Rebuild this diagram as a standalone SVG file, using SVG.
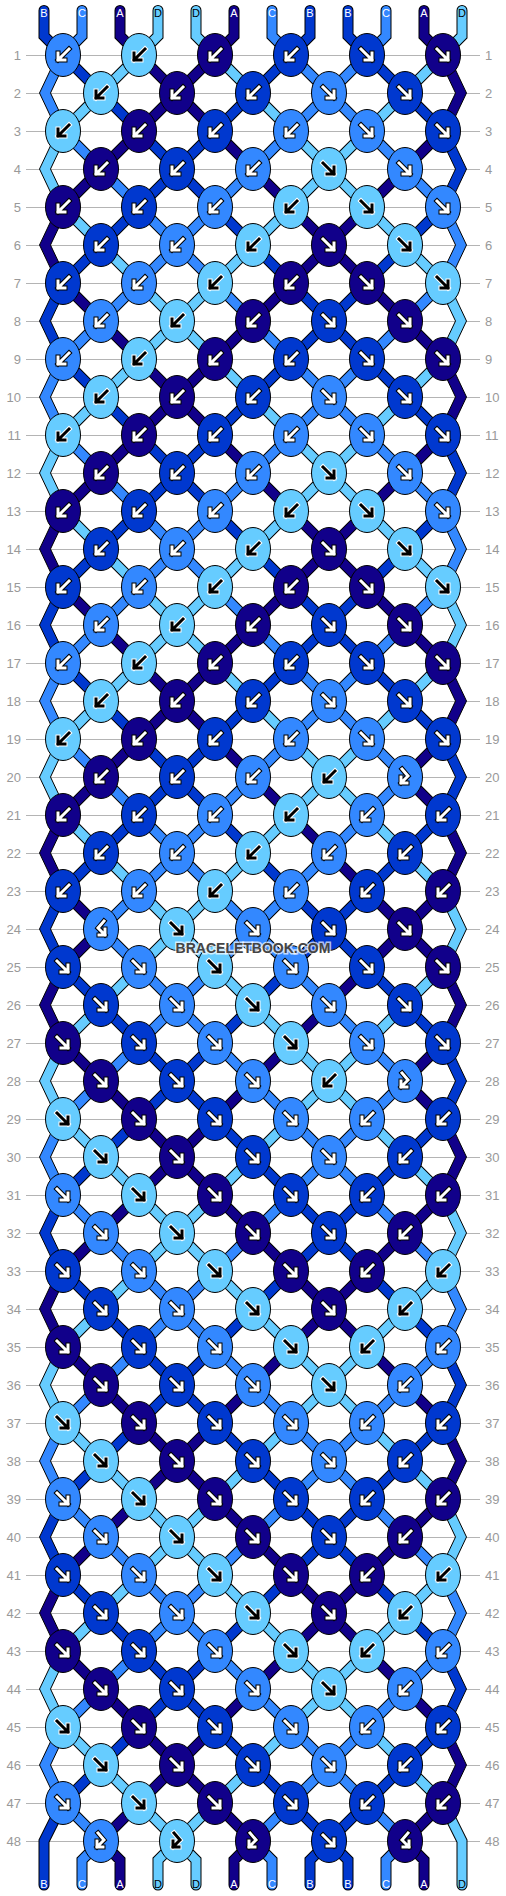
<svg xmlns="http://www.w3.org/2000/svg" xmlns:xlink="http://www.w3.org/1999/xlink" width="506" height="1896" viewBox="0 0 506 1896">
<defs>
<style>
.A{fill:#11008a}.B{fill:#0038cf}.C{fill:#3388ff}.D{fill:#66ccff}
.kn{stroke:#000;stroke-width:1}
.bd{stroke:#000;stroke-width:1}
.ar{fill:none;stroke-linecap:square;stroke-linejoin:miter}
.ow{stroke:#000;stroke-width:5}.iw{stroke:#fff;stroke-width:3}
.ok{stroke:#fff;stroke-width:5}.ik{stroke:#000;stroke-width:3}
.to,.sA,.sB,.sC,.sD{fill:none;stroke-linecap:round;stroke-linejoin:miter}
.to{stroke:#000;stroke-width:11}
.sA{stroke:#11008a;stroke-width:9}.sB{stroke:#0038cf;stroke-width:9}.sC{stroke:#3388ff;stroke-width:9}.sD{stroke:#66ccff;stroke-width:9}
.rl{fill:none;stroke:#b4b4b4;stroke-width:1}
.rn{font-family:"Liberation Sans",Arial,sans-serif;font-size:13px;fill:#999}
.tl{font-family:"Liberation Sans",Arial,sans-serif;font-size:11px;text-anchor:middle;fill:#fff}
.tl .dk{fill:#000}
.wm{font-family:"Liberation Sans",Arial,sans-serif;font-size:14px;font-weight:bold;fill:#444;stroke:#fff;stroke-opacity:0.7;stroke-width:3;paint-order:stroke;text-anchor:middle}
</style>
<ellipse id="eA" class="A kn" rx="17.5" ry="21.5"/>
<ellipse id="eB" class="B kn" rx="17.5" ry="21.5"/>
<ellipse id="eC" class="C kn" rx="17.5" ry="21.5"/>
<ellipse id="eD" class="D kn" rx="17.5" ry="21.5"/>
<path id="ab" class="ar" d="M6,-6L-5,5M-5,-2V5H2"/>
<path id="af" class="ar" d="M-6,-6L5,5M5,-2V5H-2"/>
<path id="afb" class="ar" d="M-3,-8L3,-1L-4,6M-4,0V6H2"/>
<path id="abf" class="ar" d="M3,-8L-3,-1L4,6M4,0V6H-2"/>
<g id="bW"><use href="#ab" class="ow"/><use href="#ab" class="iw"/></g>
<g id="bK"><use href="#ab" class="ok"/><use href="#ab" class="ik"/></g>
<g id="fW"><use href="#af" class="ow"/><use href="#af" class="iw"/></g>
<g id="fK"><use href="#af" class="ok"/><use href="#af" class="ik"/></g>
<g id="fbW"><use href="#afb" class="ow"/><use href="#afb" class="iw"/></g>
<g id="fbK"><use href="#afb" class="ok"/><use href="#afb" class="ik"/></g>
<g id="bfW"><use href="#abf" class="ow"/><use href="#abf" class="iw"/></g>
<polygon id="bl" points="57.5,-38 39.5,0 57.5,38 68.5,38 50.5,0 68.5,-38"/>
<polygon id="br" points="448.5,-38 466.5,0 448.5,38 437.5,38 455.5,0 437.5,-38"/>
<path id="tA" d="M120,10.5V36L139,55L443,359M443,435L63,815M63,891L101,929L63,967M63,1043L443,1423M443,1499L139,1803L101,1841L120,1860V1885M234,10.5V36L215,55L63,207M63,283L443,663M443,739L405,777L443,815M443,891L63,1271M63,1347L443,1727M443,1803L405,1841L424,1860V1885M424,10.5V36L443,55M443,131L63,511M63,587L443,967M443,1043L405,1081L443,1119M443,1195L63,1575M63,1651L253,1841L234,1860V1885"/>
<path id="tB" d="M44,10.5V36L63,55L443,435M443,511L63,891M63,967L443,1347M443,1423L63,1803L44,1841V1885M310,10.5V36L291,55L63,283M63,359L443,739M443,815L63,1195M63,1271L443,1651M443,1727L329,1841L310,1860V1885M348,10.5V36L367,55L443,131M443,207L63,587M63,663L443,1043M443,1119L63,1499M63,1575L329,1841L348,1860V1885"/>
<path id="tC" d="M82,10.5V36L63,55M63,131L443,511M443,587L101,929L443,1271M443,1347L63,1727M63,1803L101,1841L82,1860V1885M272,10.5V36L291,55L443,207M443,283L63,663M63,739L405,1081L63,1423M63,1499L405,1841L386,1860V1885M386,10.5V36L367,55L63,359M63,435L405,777L63,1119M63,1195L443,1575M443,1651L253,1841L272,1860V1885"/>
<path id="tD" d="M158,10.5V36L139,55L63,131M63,207L443,587M443,663L63,1043M63,1119L443,1499M443,1575L177,1841L196,1860V1885M196,10.5V36L215,55L443,283M443,359L63,739M63,815L443,1195M443,1271L63,1651M63,1727L177,1841L158,1860V1885M462,10.5V36L443,55L63,435M63,511L443,891M443,967L63,1347M63,1423L443,1803L462,1841V1885"/>
</defs>
<rect width="506" height="1896" fill="#fff"/>
<path class="rl" d="M26,55.5H480M26,93.5H480M26,131.5H480M26,169.5H480M26,207.5H480M26,245.5H480M26,283.5H480M26,321.5H480M26,359.5H480M26,397.5H480M26,435.5H480M26,473.5H480M26,511.5H480M26,549.5H480M26,587.5H480M26,625.5H480M26,663.5H480M26,701.5H480M26,739.5H480M26,777.5H480M26,815.5H480M26,853.5H480M26,891.5H480M26,929.5H480M26,967.5H480M26,1005.5H480M26,1043.5H480M26,1081.5H480M26,1119.5H480M26,1157.5H480M26,1195.5H480M26,1233.5H480M26,1271.5H480M26,1309.5H480M26,1347.5H480M26,1385.5H480M26,1423.5H480M26,1461.5H480M26,1499.5H480M26,1537.5H480M26,1575.5H480M26,1613.5H480M26,1651.5H480M26,1689.5H480M26,1727.5H480M26,1765.5H480M26,1803.5H480M26,1841.5H480"/>
<g class="rn" text-anchor="end">
<text x="21" y="60">1</text><text x="21" y="98">2</text><text x="21" y="136">3</text><text x="21" y="174">4</text><text x="21" y="212">5</text><text x="21" y="250">6</text><text x="21" y="288">7</text><text x="21" y="326">8</text><text x="21" y="364">9</text><text x="21" y="402">10</text><text x="21" y="440">11</text><text x="21" y="478">12</text><text x="21" y="516">13</text><text x="21" y="554">14</text><text x="21" y="592">15</text><text x="21" y="630">16</text><text x="21" y="668">17</text><text x="21" y="706">18</text><text x="21" y="744">19</text><text x="21" y="782">20</text><text x="21" y="820">21</text><text x="21" y="858">22</text><text x="21" y="896">23</text><text x="21" y="934">24</text><text x="21" y="972">25</text><text x="21" y="1010">26</text><text x="21" y="1048">27</text><text x="21" y="1086">28</text><text x="21" y="1124">29</text><text x="21" y="1162">30</text><text x="21" y="1200">31</text><text x="21" y="1238">32</text><text x="21" y="1276">33</text><text x="21" y="1314">34</text><text x="21" y="1352">35</text><text x="21" y="1390">36</text><text x="21" y="1428">37</text><text x="21" y="1466">38</text><text x="21" y="1504">39</text><text x="21" y="1542">40</text><text x="21" y="1580">41</text><text x="21" y="1618">42</text><text x="21" y="1656">43</text><text x="21" y="1694">44</text><text x="21" y="1732">45</text><text x="21" y="1770">46</text><text x="21" y="1808">47</text><text x="21" y="1846">48</text>
</g>
<g class="rn">
<text x="485" y="60">1</text><text x="485" y="98">2</text><text x="485" y="136">3</text><text x="485" y="174">4</text><text x="485" y="212">5</text><text x="485" y="250">6</text><text x="485" y="288">7</text><text x="485" y="326">8</text><text x="485" y="364">9</text><text x="485" y="402">10</text><text x="485" y="440">11</text><text x="485" y="478">12</text><text x="485" y="516">13</text><text x="485" y="554">14</text><text x="485" y="592">15</text><text x="485" y="630">16</text><text x="485" y="668">17</text><text x="485" y="706">18</text><text x="485" y="744">19</text><text x="485" y="782">20</text><text x="485" y="820">21</text><text x="485" y="858">22</text><text x="485" y="896">23</text><text x="485" y="934">24</text><text x="485" y="972">25</text><text x="485" y="1010">26</text><text x="485" y="1048">27</text><text x="485" y="1086">28</text><text x="485" y="1124">29</text><text x="485" y="1162">30</text><text x="485" y="1200">31</text><text x="485" y="1238">32</text><text x="485" y="1276">33</text><text x="485" y="1314">34</text><text x="485" y="1352">35</text><text x="485" y="1390">36</text><text x="485" y="1428">37</text><text x="485" y="1466">38</text><text x="485" y="1504">39</text><text x="485" y="1542">40</text><text x="485" y="1580">41</text><text x="485" y="1618">42</text><text x="485" y="1656">43</text><text x="485" y="1694">44</text><text x="485" y="1732">45</text><text x="485" y="1770">46</text><text x="485" y="1808">47</text><text x="485" y="1846">48</text>
</g>
<g id="threads">
<use href="#tA" class="to"/><use href="#tB" class="to"/><use href="#tC" class="to"/><use href="#tD" class="to"/>
<use href="#tA" class="sA"/><use href="#tB" class="sB"/><use href="#tC" class="sC"/><use href="#tD" class="sD"/>
<use href="#bl" y="93" class="bd C"/><use href="#bl" y="169" class="bd D"/><use href="#bl" y="245" class="bd A"/><use href="#bl" y="321" class="bd B"/><use href="#bl" y="397" class="bd C"/><use href="#bl" y="473" class="bd D"/><use href="#bl" y="549" class="bd A"/><use href="#bl" y="625" class="bd B"/><use href="#bl" y="701" class="bd C"/><use href="#bl" y="777" class="bd D"/><use href="#bl" y="853" class="bd A"/><use href="#bl" y="929" class="bd B"/><use href="#bl" y="1005" class="bd A"/><use href="#bl" y="1081" class="bd D"/><use href="#bl" y="1157" class="bd C"/><use href="#bl" y="1233" class="bd B"/><use href="#bl" y="1309" class="bd A"/><use href="#bl" y="1385" class="bd D"/><use href="#bl" y="1461" class="bd C"/><use href="#bl" y="1537" class="bd B"/><use href="#bl" y="1613" class="bd A"/><use href="#bl" y="1689" class="bd D"/><use href="#bl" y="1765" class="bd C"/>
<use href="#br" y="93" class="bd A"/><use href="#br" y="169" class="bd B"/><use href="#br" y="245" class="bd C"/><use href="#br" y="321" class="bd D"/><use href="#br" y="397" class="bd A"/><use href="#br" y="473" class="bd B"/><use href="#br" y="549" class="bd C"/><use href="#br" y="625" class="bd D"/><use href="#br" y="701" class="bd A"/><use href="#br" y="777" class="bd B"/><use href="#br" y="853" class="bd A"/><use href="#br" y="929" class="bd D"/><use href="#br" y="1005" class="bd A"/><use href="#br" y="1081" class="bd B"/><use href="#br" y="1157" class="bd A"/><use href="#br" y="1233" class="bd D"/><use href="#br" y="1309" class="bd C"/><use href="#br" y="1385" class="bd B"/><use href="#br" y="1461" class="bd A"/><use href="#br" y="1537" class="bd D"/><use href="#br" y="1613" class="bd C"/><use href="#br" y="1689" class="bd B"/><use href="#br" y="1765" class="bd A"/>
</g>
<g class="tl">
<text x="44" y="17">B</text><text x="82" y="17">C</text><text x="120" y="17">A</text><text x="158" y="17" class="dk">D</text><text x="196" y="17" class="dk">D</text><text x="234" y="17">A</text><text x="272" y="17">C</text><text x="310" y="17">B</text><text x="348" y="17">B</text><text x="386" y="17">C</text><text x="424" y="17">A</text><text x="462" y="17" class="dk">D</text>
<text x="44" y="1888">B</text><text x="82" y="1888">C</text><text x="120" y="1888">A</text><text x="158" y="1888" class="dk">D</text><text x="196" y="1888" class="dk">D</text><text x="234" y="1888">A</text><text x="272" y="1888">C</text><text x="310" y="1888">B</text><text x="348" y="1888">B</text><text x="386" y="1888">C</text><text x="424" y="1888">A</text><text x="462" y="1888" class="dk">D</text>
</g>
<g id="knots">
<g id="k1-1" transform="translate(63 55)"><use href="#eC"/><use href="#bW"/></g><g id="k1-2" transform="translate(139 55)"><use href="#eD"/><use href="#bK"/></g><g id="k1-3" transform="translate(215 55)"><use href="#eA"/><use href="#bW"/></g><g id="k1-4" transform="translate(291 55)"><use href="#eB"/><use href="#bW"/></g><g id="k1-5" transform="translate(367 55)"><use href="#eB"/><use href="#fW"/></g><g id="k1-6" transform="translate(443 55)"><use href="#eA"/><use href="#fW"/></g>
<g id="k2-1" transform="translate(101 93)"><use href="#eD"/><use href="#bK"/></g><g id="k2-2" transform="translate(177 93)"><use href="#eA"/><use href="#bW"/></g><g id="k2-3" transform="translate(253 93)"><use href="#eB"/><use href="#bW"/></g><g id="k2-4" transform="translate(329 93)"><use href="#eC"/><use href="#fW"/></g><g id="k2-5" transform="translate(405 93)"><use href="#eB"/><use href="#fW"/></g>
<g id="k3-1" transform="translate(63 131)"><use href="#eD"/><use href="#bK"/></g><g id="k3-2" transform="translate(139 131)"><use href="#eA"/><use href="#bW"/></g><g id="k3-3" transform="translate(215 131)"><use href="#eB"/><use href="#bW"/></g><g id="k3-4" transform="translate(291 131)"><use href="#eC"/><use href="#bW"/></g><g id="k3-5" transform="translate(367 131)"><use href="#eC"/><use href="#fW"/></g><g id="k3-6" transform="translate(443 131)"><use href="#eB"/><use href="#fW"/></g>
<g id="k4-1" transform="translate(101 169)"><use href="#eA"/><use href="#bW"/></g><g id="k4-2" transform="translate(177 169)"><use href="#eB"/><use href="#bW"/></g><g id="k4-3" transform="translate(253 169)"><use href="#eC"/><use href="#bW"/></g><g id="k4-4" transform="translate(329 169)"><use href="#eD"/><use href="#fK"/></g><g id="k4-5" transform="translate(405 169)"><use href="#eC"/><use href="#fW"/></g>
<g id="k5-1" transform="translate(63 207)"><use href="#eA"/><use href="#bW"/></g><g id="k5-2" transform="translate(139 207)"><use href="#eB"/><use href="#bW"/></g><g id="k5-3" transform="translate(215 207)"><use href="#eC"/><use href="#bW"/></g><g id="k5-4" transform="translate(291 207)"><use href="#eD"/><use href="#bK"/></g><g id="k5-5" transform="translate(367 207)"><use href="#eD"/><use href="#fK"/></g><g id="k5-6" transform="translate(443 207)"><use href="#eC"/><use href="#fW"/></g>
<g id="k6-1" transform="translate(101 245)"><use href="#eB"/><use href="#bW"/></g><g id="k6-2" transform="translate(177 245)"><use href="#eC"/><use href="#bW"/></g><g id="k6-3" transform="translate(253 245)"><use href="#eD"/><use href="#bK"/></g><g id="k6-4" transform="translate(329 245)"><use href="#eA"/><use href="#fW"/></g><g id="k6-5" transform="translate(405 245)"><use href="#eD"/><use href="#fK"/></g>
<g id="k7-1" transform="translate(63 283)"><use href="#eB"/><use href="#bW"/></g><g id="k7-2" transform="translate(139 283)"><use href="#eC"/><use href="#bW"/></g><g id="k7-3" transform="translate(215 283)"><use href="#eD"/><use href="#bK"/></g><g id="k7-4" transform="translate(291 283)"><use href="#eA"/><use href="#bW"/></g><g id="k7-5" transform="translate(367 283)"><use href="#eA"/><use href="#fW"/></g><g id="k7-6" transform="translate(443 283)"><use href="#eD"/><use href="#fK"/></g>
<g id="k8-1" transform="translate(101 321)"><use href="#eC"/><use href="#bW"/></g><g id="k8-2" transform="translate(177 321)"><use href="#eD"/><use href="#bK"/></g><g id="k8-3" transform="translate(253 321)"><use href="#eA"/><use href="#bW"/></g><g id="k8-4" transform="translate(329 321)"><use href="#eB"/><use href="#fW"/></g><g id="k8-5" transform="translate(405 321)"><use href="#eA"/><use href="#fW"/></g>
<g id="k9-1" transform="translate(63 359)"><use href="#eC"/><use href="#bW"/></g><g id="k9-2" transform="translate(139 359)"><use href="#eD"/><use href="#bK"/></g><g id="k9-3" transform="translate(215 359)"><use href="#eA"/><use href="#bW"/></g><g id="k9-4" transform="translate(291 359)"><use href="#eB"/><use href="#bW"/></g><g id="k9-5" transform="translate(367 359)"><use href="#eB"/><use href="#fW"/></g><g id="k9-6" transform="translate(443 359)"><use href="#eA"/><use href="#fW"/></g>
<g id="k10-1" transform="translate(101 397)"><use href="#eD"/><use href="#bK"/></g><g id="k10-2" transform="translate(177 397)"><use href="#eA"/><use href="#bW"/></g><g id="k10-3" transform="translate(253 397)"><use href="#eB"/><use href="#bW"/></g><g id="k10-4" transform="translate(329 397)"><use href="#eC"/><use href="#fW"/></g><g id="k10-5" transform="translate(405 397)"><use href="#eB"/><use href="#fW"/></g>
<g id="k11-1" transform="translate(63 435)"><use href="#eD"/><use href="#bK"/></g><g id="k11-2" transform="translate(139 435)"><use href="#eA"/><use href="#bW"/></g><g id="k11-3" transform="translate(215 435)"><use href="#eB"/><use href="#bW"/></g><g id="k11-4" transform="translate(291 435)"><use href="#eC"/><use href="#bW"/></g><g id="k11-5" transform="translate(367 435)"><use href="#eC"/><use href="#fW"/></g><g id="k11-6" transform="translate(443 435)"><use href="#eB"/><use href="#fW"/></g>
<g id="k12-1" transform="translate(101 473)"><use href="#eA"/><use href="#bW"/></g><g id="k12-2" transform="translate(177 473)"><use href="#eB"/><use href="#bW"/></g><g id="k12-3" transform="translate(253 473)"><use href="#eC"/><use href="#bW"/></g><g id="k12-4" transform="translate(329 473)"><use href="#eD"/><use href="#fK"/></g><g id="k12-5" transform="translate(405 473)"><use href="#eC"/><use href="#fW"/></g>
<g id="k13-1" transform="translate(63 511)"><use href="#eA"/><use href="#bW"/></g><g id="k13-2" transform="translate(139 511)"><use href="#eB"/><use href="#bW"/></g><g id="k13-3" transform="translate(215 511)"><use href="#eC"/><use href="#bW"/></g><g id="k13-4" transform="translate(291 511)"><use href="#eD"/><use href="#bK"/></g><g id="k13-5" transform="translate(367 511)"><use href="#eD"/><use href="#fK"/></g><g id="k13-6" transform="translate(443 511)"><use href="#eC"/><use href="#fW"/></g>
<g id="k14-1" transform="translate(101 549)"><use href="#eB"/><use href="#bW"/></g><g id="k14-2" transform="translate(177 549)"><use href="#eC"/><use href="#bW"/></g><g id="k14-3" transform="translate(253 549)"><use href="#eD"/><use href="#bK"/></g><g id="k14-4" transform="translate(329 549)"><use href="#eA"/><use href="#fW"/></g><g id="k14-5" transform="translate(405 549)"><use href="#eD"/><use href="#fK"/></g>
<g id="k15-1" transform="translate(63 587)"><use href="#eB"/><use href="#bW"/></g><g id="k15-2" transform="translate(139 587)"><use href="#eC"/><use href="#bW"/></g><g id="k15-3" transform="translate(215 587)"><use href="#eD"/><use href="#bK"/></g><g id="k15-4" transform="translate(291 587)"><use href="#eA"/><use href="#bW"/></g><g id="k15-5" transform="translate(367 587)"><use href="#eA"/><use href="#fW"/></g><g id="k15-6" transform="translate(443 587)"><use href="#eD"/><use href="#fK"/></g>
<g id="k16-1" transform="translate(101 625)"><use href="#eC"/><use href="#bW"/></g><g id="k16-2" transform="translate(177 625)"><use href="#eD"/><use href="#bK"/></g><g id="k16-3" transform="translate(253 625)"><use href="#eA"/><use href="#bW"/></g><g id="k16-4" transform="translate(329 625)"><use href="#eB"/><use href="#fW"/></g><g id="k16-5" transform="translate(405 625)"><use href="#eA"/><use href="#fW"/></g>
<g id="k17-1" transform="translate(63 663)"><use href="#eC"/><use href="#bW"/></g><g id="k17-2" transform="translate(139 663)"><use href="#eD"/><use href="#bK"/></g><g id="k17-3" transform="translate(215 663)"><use href="#eA"/><use href="#bW"/></g><g id="k17-4" transform="translate(291 663)"><use href="#eB"/><use href="#bW"/></g><g id="k17-5" transform="translate(367 663)"><use href="#eB"/><use href="#fW"/></g><g id="k17-6" transform="translate(443 663)"><use href="#eA"/><use href="#fW"/></g>
<g id="k18-1" transform="translate(101 701)"><use href="#eD"/><use href="#bK"/></g><g id="k18-2" transform="translate(177 701)"><use href="#eA"/><use href="#bW"/></g><g id="k18-3" transform="translate(253 701)"><use href="#eB"/><use href="#bW"/></g><g id="k18-4" transform="translate(329 701)"><use href="#eC"/><use href="#fW"/></g><g id="k18-5" transform="translate(405 701)"><use href="#eB"/><use href="#fW"/></g>
<g id="k19-1" transform="translate(63 739)"><use href="#eD"/><use href="#bK"/></g><g id="k19-2" transform="translate(139 739)"><use href="#eA"/><use href="#bW"/></g><g id="k19-3" transform="translate(215 739)"><use href="#eB"/><use href="#bW"/></g><g id="k19-4" transform="translate(291 739)"><use href="#eC"/><use href="#bW"/></g><g id="k19-5" transform="translate(367 739)"><use href="#eC"/><use href="#fW"/></g><g id="k19-6" transform="translate(443 739)"><use href="#eB"/><use href="#fW"/></g>
<g id="k20-1" transform="translate(101 777)"><use href="#eA"/><use href="#bW"/></g><g id="k20-2" transform="translate(177 777)"><use href="#eB"/><use href="#bW"/></g><g id="k20-3" transform="translate(253 777)"><use href="#eC"/><use href="#bW"/></g><g id="k20-4" transform="translate(329 777)"><use href="#eD"/><use href="#bK"/></g><g id="k20-5" transform="translate(405 777)"><use href="#eC"/><use href="#fbW"/></g>
<g id="k21-1" transform="translate(63 815)"><use href="#eA"/><use href="#bW"/></g><g id="k21-2" transform="translate(139 815)"><use href="#eB"/><use href="#bW"/></g><g id="k21-3" transform="translate(215 815)"><use href="#eC"/><use href="#bW"/></g><g id="k21-4" transform="translate(291 815)"><use href="#eD"/><use href="#bK"/></g><g id="k21-5" transform="translate(367 815)"><use href="#eC"/><use href="#bW"/></g><g id="k21-6" transform="translate(443 815)"><use href="#eB"/><use href="#bW"/></g>
<g id="k22-1" transform="translate(101 853)"><use href="#eB"/><use href="#bW"/></g><g id="k22-2" transform="translate(177 853)"><use href="#eC"/><use href="#bW"/></g><g id="k22-3" transform="translate(253 853)"><use href="#eD"/><use href="#bK"/></g><g id="k22-4" transform="translate(329 853)"><use href="#eC"/><use href="#bW"/></g><g id="k22-5" transform="translate(405 853)"><use href="#eB"/><use href="#bW"/></g>
<g id="k23-1" transform="translate(63 891)"><use href="#eB"/><use href="#bW"/></g><g id="k23-2" transform="translate(139 891)"><use href="#eC"/><use href="#bW"/></g><g id="k23-3" transform="translate(215 891)"><use href="#eD"/><use href="#bK"/></g><g id="k23-4" transform="translate(291 891)"><use href="#eC"/><use href="#bW"/></g><g id="k23-5" transform="translate(367 891)"><use href="#eB"/><use href="#bW"/></g><g id="k23-6" transform="translate(443 891)"><use href="#eA"/><use href="#bW"/></g>
<g id="k24-1" transform="translate(101 929)"><use href="#eC"/><use href="#bfW"/></g><g id="k24-2" transform="translate(177 929)"><use href="#eD"/><use href="#fK"/></g><g id="k24-3" transform="translate(253 929)"><use href="#eC"/><use href="#fW"/></g><g id="k24-4" transform="translate(329 929)"><use href="#eB"/><use href="#fW"/></g><g id="k24-5" transform="translate(405 929)"><use href="#eA"/><use href="#fW"/></g>
<g id="k25-1" transform="translate(63 967)"><use href="#eB"/><use href="#fW"/></g><g id="k25-2" transform="translate(139 967)"><use href="#eC"/><use href="#fW"/></g><g id="k25-3" transform="translate(215 967)"><use href="#eD"/><use href="#fK"/></g><g id="k25-4" transform="translate(291 967)"><use href="#eC"/><use href="#fW"/></g><g id="k25-5" transform="translate(367 967)"><use href="#eB"/><use href="#fW"/></g><g id="k25-6" transform="translate(443 967)"><use href="#eA"/><use href="#fW"/></g>
<g id="k26-1" transform="translate(101 1005)"><use href="#eB"/><use href="#fW"/></g><g id="k26-2" transform="translate(177 1005)"><use href="#eC"/><use href="#fW"/></g><g id="k26-3" transform="translate(253 1005)"><use href="#eD"/><use href="#fK"/></g><g id="k26-4" transform="translate(329 1005)"><use href="#eC"/><use href="#fW"/></g><g id="k26-5" transform="translate(405 1005)"><use href="#eB"/><use href="#fW"/></g>
<g id="k27-1" transform="translate(63 1043)"><use href="#eA"/><use href="#fW"/></g><g id="k27-2" transform="translate(139 1043)"><use href="#eB"/><use href="#fW"/></g><g id="k27-3" transform="translate(215 1043)"><use href="#eC"/><use href="#fW"/></g><g id="k27-4" transform="translate(291 1043)"><use href="#eD"/><use href="#fK"/></g><g id="k27-5" transform="translate(367 1043)"><use href="#eC"/><use href="#fW"/></g><g id="k27-6" transform="translate(443 1043)"><use href="#eB"/><use href="#fW"/></g>
<g id="k28-1" transform="translate(101 1081)"><use href="#eA"/><use href="#fW"/></g><g id="k28-2" transform="translate(177 1081)"><use href="#eB"/><use href="#fW"/></g><g id="k28-3" transform="translate(253 1081)"><use href="#eC"/><use href="#fW"/></g><g id="k28-4" transform="translate(329 1081)"><use href="#eD"/><use href="#bK"/></g><g id="k28-5" transform="translate(405 1081)"><use href="#eC"/><use href="#fbW"/></g>
<g id="k29-1" transform="translate(63 1119)"><use href="#eD"/><use href="#fK"/></g><g id="k29-2" transform="translate(139 1119)"><use href="#eA"/><use href="#fW"/></g><g id="k29-3" transform="translate(215 1119)"><use href="#eB"/><use href="#fW"/></g><g id="k29-4" transform="translate(291 1119)"><use href="#eC"/><use href="#fW"/></g><g id="k29-5" transform="translate(367 1119)"><use href="#eC"/><use href="#bW"/></g><g id="k29-6" transform="translate(443 1119)"><use href="#eB"/><use href="#bW"/></g>
<g id="k30-1" transform="translate(101 1157)"><use href="#eD"/><use href="#fK"/></g><g id="k30-2" transform="translate(177 1157)"><use href="#eA"/><use href="#fW"/></g><g id="k30-3" transform="translate(253 1157)"><use href="#eB"/><use href="#fW"/></g><g id="k30-4" transform="translate(329 1157)"><use href="#eC"/><use href="#fW"/></g><g id="k30-5" transform="translate(405 1157)"><use href="#eB"/><use href="#bW"/></g>
<g id="k31-1" transform="translate(63 1195)"><use href="#eC"/><use href="#fW"/></g><g id="k31-2" transform="translate(139 1195)"><use href="#eD"/><use href="#fK"/></g><g id="k31-3" transform="translate(215 1195)"><use href="#eA"/><use href="#fW"/></g><g id="k31-4" transform="translate(291 1195)"><use href="#eB"/><use href="#fW"/></g><g id="k31-5" transform="translate(367 1195)"><use href="#eB"/><use href="#bW"/></g><g id="k31-6" transform="translate(443 1195)"><use href="#eA"/><use href="#bW"/></g>
<g id="k32-1" transform="translate(101 1233)"><use href="#eC"/><use href="#fW"/></g><g id="k32-2" transform="translate(177 1233)"><use href="#eD"/><use href="#fK"/></g><g id="k32-3" transform="translate(253 1233)"><use href="#eA"/><use href="#fW"/></g><g id="k32-4" transform="translate(329 1233)"><use href="#eB"/><use href="#fW"/></g><g id="k32-5" transform="translate(405 1233)"><use href="#eA"/><use href="#bW"/></g>
<g id="k33-1" transform="translate(63 1271)"><use href="#eB"/><use href="#fW"/></g><g id="k33-2" transform="translate(139 1271)"><use href="#eC"/><use href="#fW"/></g><g id="k33-3" transform="translate(215 1271)"><use href="#eD"/><use href="#fK"/></g><g id="k33-4" transform="translate(291 1271)"><use href="#eA"/><use href="#fW"/></g><g id="k33-5" transform="translate(367 1271)"><use href="#eA"/><use href="#bW"/></g><g id="k33-6" transform="translate(443 1271)"><use href="#eD"/><use href="#bK"/></g>
<g id="k34-1" transform="translate(101 1309)"><use href="#eB"/><use href="#fW"/></g><g id="k34-2" transform="translate(177 1309)"><use href="#eC"/><use href="#fW"/></g><g id="k34-3" transform="translate(253 1309)"><use href="#eD"/><use href="#fK"/></g><g id="k34-4" transform="translate(329 1309)"><use href="#eA"/><use href="#fW"/></g><g id="k34-5" transform="translate(405 1309)"><use href="#eD"/><use href="#bK"/></g>
<g id="k35-1" transform="translate(63 1347)"><use href="#eA"/><use href="#fW"/></g><g id="k35-2" transform="translate(139 1347)"><use href="#eB"/><use href="#fW"/></g><g id="k35-3" transform="translate(215 1347)"><use href="#eC"/><use href="#fW"/></g><g id="k35-4" transform="translate(291 1347)"><use href="#eD"/><use href="#fK"/></g><g id="k35-5" transform="translate(367 1347)"><use href="#eD"/><use href="#bK"/></g><g id="k35-6" transform="translate(443 1347)"><use href="#eC"/><use href="#bW"/></g>
<g id="k36-1" transform="translate(101 1385)"><use href="#eA"/><use href="#fW"/></g><g id="k36-2" transform="translate(177 1385)"><use href="#eB"/><use href="#fW"/></g><g id="k36-3" transform="translate(253 1385)"><use href="#eC"/><use href="#fW"/></g><g id="k36-4" transform="translate(329 1385)"><use href="#eD"/><use href="#fK"/></g><g id="k36-5" transform="translate(405 1385)"><use href="#eC"/><use href="#bW"/></g>
<g id="k37-1" transform="translate(63 1423)"><use href="#eD"/><use href="#fK"/></g><g id="k37-2" transform="translate(139 1423)"><use href="#eA"/><use href="#fW"/></g><g id="k37-3" transform="translate(215 1423)"><use href="#eB"/><use href="#fW"/></g><g id="k37-4" transform="translate(291 1423)"><use href="#eC"/><use href="#fW"/></g><g id="k37-5" transform="translate(367 1423)"><use href="#eC"/><use href="#bW"/></g><g id="k37-6" transform="translate(443 1423)"><use href="#eB"/><use href="#bW"/></g>
<g id="k38-1" transform="translate(101 1461)"><use href="#eD"/><use href="#fK"/></g><g id="k38-2" transform="translate(177 1461)"><use href="#eA"/><use href="#fW"/></g><g id="k38-3" transform="translate(253 1461)"><use href="#eB"/><use href="#fW"/></g><g id="k38-4" transform="translate(329 1461)"><use href="#eC"/><use href="#fW"/></g><g id="k38-5" transform="translate(405 1461)"><use href="#eB"/><use href="#bW"/></g>
<g id="k39-1" transform="translate(63 1499)"><use href="#eC"/><use href="#fW"/></g><g id="k39-2" transform="translate(139 1499)"><use href="#eD"/><use href="#fK"/></g><g id="k39-3" transform="translate(215 1499)"><use href="#eA"/><use href="#fW"/></g><g id="k39-4" transform="translate(291 1499)"><use href="#eB"/><use href="#fW"/></g><g id="k39-5" transform="translate(367 1499)"><use href="#eB"/><use href="#bW"/></g><g id="k39-6" transform="translate(443 1499)"><use href="#eA"/><use href="#bW"/></g>
<g id="k40-1" transform="translate(101 1537)"><use href="#eC"/><use href="#fW"/></g><g id="k40-2" transform="translate(177 1537)"><use href="#eD"/><use href="#fK"/></g><g id="k40-3" transform="translate(253 1537)"><use href="#eA"/><use href="#fW"/></g><g id="k40-4" transform="translate(329 1537)"><use href="#eB"/><use href="#fW"/></g><g id="k40-5" transform="translate(405 1537)"><use href="#eA"/><use href="#bW"/></g>
<g id="k41-1" transform="translate(63 1575)"><use href="#eB"/><use href="#fW"/></g><g id="k41-2" transform="translate(139 1575)"><use href="#eC"/><use href="#fW"/></g><g id="k41-3" transform="translate(215 1575)"><use href="#eD"/><use href="#fK"/></g><g id="k41-4" transform="translate(291 1575)"><use href="#eA"/><use href="#fW"/></g><g id="k41-5" transform="translate(367 1575)"><use href="#eA"/><use href="#bW"/></g><g id="k41-6" transform="translate(443 1575)"><use href="#eD"/><use href="#bK"/></g>
<g id="k42-1" transform="translate(101 1613)"><use href="#eB"/><use href="#fW"/></g><g id="k42-2" transform="translate(177 1613)"><use href="#eC"/><use href="#fW"/></g><g id="k42-3" transform="translate(253 1613)"><use href="#eD"/><use href="#fK"/></g><g id="k42-4" transform="translate(329 1613)"><use href="#eA"/><use href="#fW"/></g><g id="k42-5" transform="translate(405 1613)"><use href="#eD"/><use href="#bK"/></g>
<g id="k43-1" transform="translate(63 1651)"><use href="#eA"/><use href="#fW"/></g><g id="k43-2" transform="translate(139 1651)"><use href="#eB"/><use href="#fW"/></g><g id="k43-3" transform="translate(215 1651)"><use href="#eC"/><use href="#fW"/></g><g id="k43-4" transform="translate(291 1651)"><use href="#eD"/><use href="#fK"/></g><g id="k43-5" transform="translate(367 1651)"><use href="#eD"/><use href="#bK"/></g><g id="k43-6" transform="translate(443 1651)"><use href="#eC"/><use href="#bW"/></g>
<g id="k44-1" transform="translate(101 1689)"><use href="#eA"/><use href="#fW"/></g><g id="k44-2" transform="translate(177 1689)"><use href="#eB"/><use href="#fW"/></g><g id="k44-3" transform="translate(253 1689)"><use href="#eC"/><use href="#fW"/></g><g id="k44-4" transform="translate(329 1689)"><use href="#eD"/><use href="#fK"/></g><g id="k44-5" transform="translate(405 1689)"><use href="#eC"/><use href="#bW"/></g>
<g id="k45-1" transform="translate(63 1727)"><use href="#eD"/><use href="#fK"/></g><g id="k45-2" transform="translate(139 1727)"><use href="#eA"/><use href="#fW"/></g><g id="k45-3" transform="translate(215 1727)"><use href="#eB"/><use href="#fW"/></g><g id="k45-4" transform="translate(291 1727)"><use href="#eC"/><use href="#fW"/></g><g id="k45-5" transform="translate(367 1727)"><use href="#eC"/><use href="#bW"/></g><g id="k45-6" transform="translate(443 1727)"><use href="#eB"/><use href="#bW"/></g>
<g id="k46-1" transform="translate(101 1765)"><use href="#eD"/><use href="#fK"/></g><g id="k46-2" transform="translate(177 1765)"><use href="#eA"/><use href="#fW"/></g><g id="k46-3" transform="translate(253 1765)"><use href="#eB"/><use href="#fW"/></g><g id="k46-4" transform="translate(329 1765)"><use href="#eC"/><use href="#fW"/></g><g id="k46-5" transform="translate(405 1765)"><use href="#eB"/><use href="#bW"/></g>
<g id="k47-1" transform="translate(63 1803)"><use href="#eC"/><use href="#fW"/></g><g id="k47-2" transform="translate(139 1803)"><use href="#eD"/><use href="#fK"/></g><g id="k47-3" transform="translate(215 1803)"><use href="#eA"/><use href="#fW"/></g><g id="k47-4" transform="translate(291 1803)"><use href="#eB"/><use href="#fW"/></g><g id="k47-5" transform="translate(367 1803)"><use href="#eB"/><use href="#bW"/></g><g id="k47-6" transform="translate(443 1803)"><use href="#eA"/><use href="#bW"/></g>
<g id="k48-1" transform="translate(101 1841)"><use href="#eC"/><use href="#fbW"/></g><g id="k48-2" transform="translate(177 1841)"><use href="#eD"/><use href="#fbK"/></g><g id="k48-3" transform="translate(253 1841)"><use href="#eA"/><use href="#fbW"/></g><g id="k48-4" transform="translate(329 1841)"><use href="#eB"/><use href="#fW"/></g><g id="k48-5" transform="translate(405 1841)"><use href="#eA"/><use href="#bfW"/></g>
</g>
<text class="wm" x="253" y="953">BRACELETBOOK.COM</text>
</svg>
